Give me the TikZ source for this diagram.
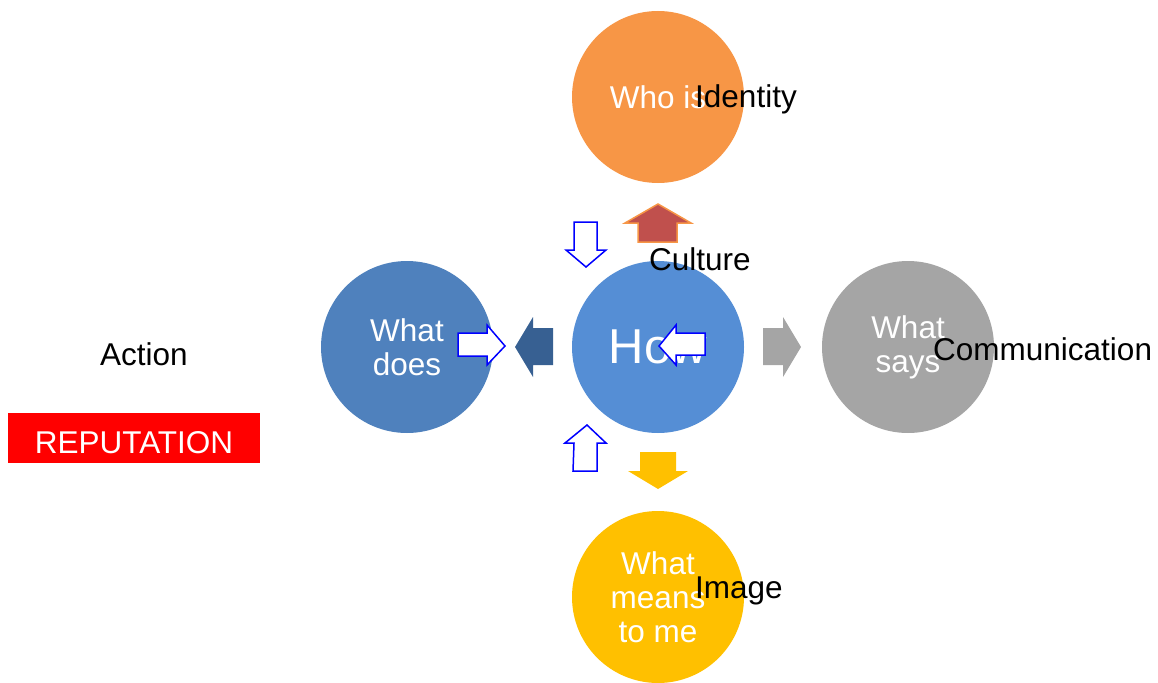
\documentclass[tikz,border=0pt]{standalone}
\usepackage{fontspec}
\setmainfont{Liberation Sans}
\definecolor{orangeC}{HTML}{F79646}
\definecolor{howC}{HTML}{558ED5}
\definecolor{doesC}{HTML}{4F81BD}
\definecolor{grayC}{HTML}{A5A5A5}
\definecolor{yellowC}{HTML}{FFC000}
\definecolor{redA}{HTML}{C0504D}
\definecolor{darkA}{HTML}{376092}
\definecolor{repC}{HTML}{FF0000}
\begin{document}
\begin{tikzpicture}[x=1pt,y=-1pt,
  bub/.style={circle,minimum size=172pt,inner sep=0pt,text=white,align=center,font=\fontsize{31.5}{34}\selectfont},
  lbl/.style={anchor=base west,inner sep=0pt,font=\fontsize{31.5}{34}\selectfont},
  hollow/.style={draw=blue,fill=white,line width=1.5pt,line join=miter},
]
\useasboundingbox (0,0) rectangle (1158,682);
% circles
\node[bub,fill=orangeC] (who) at (658,97) {Who is};
\node[bub,fill=howC,font=\fontsize{49}{52}\selectfont] (how) at (658,347) {How};
\node[bub,fill=doesC] (does) at (407,347) {What\\does};
\node[bub,fill=grayC] (says) at (908,347) {What\\says};
\node[bub,fill=yellowC] (means) at (658,597) {What\\means\\to me};
% solid block arrows
\draw[fill=redA,draw=orangeC,line width=1.5pt] (638,242) -- (638,223) -- (625,223) -- (658,204) -- (691,223) -- (677,223) -- (677,242) -- cycle;
\fill[darkA] (553,328) -- (533,328) -- (533,317) -- (515,347) -- (533,377) -- (533,365) -- (553,365) -- cycle;
\fill[grayC] (763,328) -- (783,328) -- (783,317) -- (801,347) -- (783,377) -- (783,365) -- (763,365) -- cycle;
\fill[yellowC] (640,452) -- (676,452) -- (676,471) -- (688,471) -- (658,489) -- (628,471) -- (640,471) -- cycle;
% hollow blue arrows
\draw[hollow] (574,222) -- (597,222) -- (597,250) -- (606,250) -- (586,267) -- (566,250) -- (574,250) -- cycle;
\draw[hollow] (573,471) -- (597,471) -- (597,443) -- (606,443) -- (587,425) -- (565,443) -- (574,443) -- cycle;
\draw[hollow] (705,333) -- (676,333) -- (676,325) -- (659,346) -- (676,365) -- (676,355) -- (705,355) -- cycle;
\draw[hollow] (458,333) -- (487,333) -- (487,325) -- (505,346) -- (487,365) -- (487,356) -- (458,356) -- cycle;
% labels
\node[lbl] (identity) at (695,108) {Identity};
\node[lbl] (culture) at (649,270) {Culture};
\node[lbl] (comm) at (933,360) {Communication};
\node[lbl] (action) at (100,365) {Action};
\node[lbl] (image) at (695,598) {Image};
% reputation
\node[fill=repC,minimum width=252pt,minimum height=50pt,inner sep=0pt] (repbox) at (134,438) {};
\node[anchor=base,inner sep=0pt,text=white,font=\fontsize{31.5}{34}\selectfont] (rep) at (repbox.center |- 0,453) {REPUTATION};
\end{tikzpicture}
\end{document}
